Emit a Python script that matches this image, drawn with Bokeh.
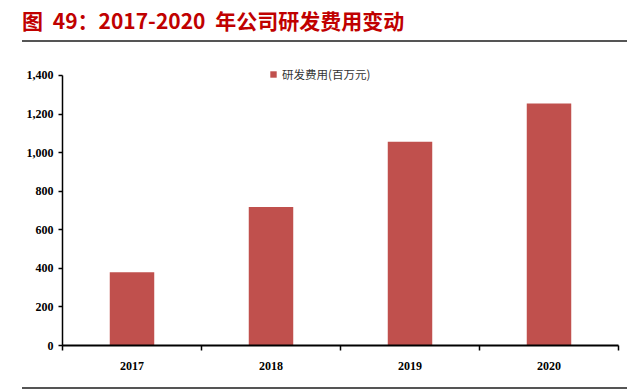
from bokeh.plotting import figure
from bokeh.models import (ColumnDataSource, FixedTicker, Range1d, Legend, LegendItem,
                          NumeralTickFormatter, Div)
from bokeh.layouts import column
from bokeh.embed import file_html
from bokeh.resources import INLINE

categories = ["2017", "2018", "2019", "2020"]
rd_expense = [380, 718, 1057, 1255]
y_ticks = [0, 200, 400, 600, 800, 1000, 1200, 1400]
series_name = "研发费用(百万元)"
title_text = "图 49：2017-2020 年公司研发费用变动"

xs = [i + 0.5 for i in range(len(categories))]
src = ColumnDataSource(dict(x=xs, top=rd_expense, cat=categories))

# ---- title block with rule ----
title_html = f"""
<div style="position:relative;width:640px;height:44px;overflow:hidden;">
  <div style="position:absolute;left:22px;top:6px;font-family:'Noto Sans CJK SC';font-weight:bold;
              font-size:21px;line-height:28px;color:#C00000;white-space:nowrap;word-spacing:5px;">{title_text}</div>
  <div style="position:absolute;left:22px;top:40px;width:605px;height:2px;background:#555555;"></div>
</div>"""
top_div = Div(text=title_html, width=640, height=44, margin=(0, 0, 0, 0))

bottom_html = """
<div style="position:relative;width:640px;height:11px;overflow:hidden;">
  <div style="position:absolute;left:22px;top:6px;width:605px;height:2px;background:#555555;"></div>
</div>"""
bottom_div = Div(text=bottom_html, width=640, height=11, margin=(0, 0, 0, 0))

# ---- chart ----
p = figure(width=640, height=336, output_backend="svg", toolbar_location=None,
           x_range=Range1d(0, len(categories)), y_range=Range1d(0, 1488),
           min_border_left=62, min_border_right=22, min_border_top=14, min_border_bottom=35,
           margin=(0, 0, 0, 0))
p.outline_line_color = None
p.xgrid.visible = False
p.ygrid.visible = False
p.background_fill_color = "white"
p.border_fill_color = "white"

r = p.vbar(x="x", top="top", width=0.32, source=src, fill_color="#C0504D", line_color=None)

ya = p.yaxis[0]
ya.ticker = FixedTicker(ticks=y_ticks)
ya.formatter = NumeralTickFormatter(format="0,0")
ya.bounds = (0, 1400)
ya.axis_line_color = "black"
ya.axis_line_width = 1.5
ya.major_tick_out = 4
ya.major_tick_in = 0
ya.major_tick_line_color = "black"
ya.major_tick_line_width = 1.5
ya.minor_tick_line_color = None
ya.major_label_text_font = "Liberation Serif"
ya.major_label_text_font_style = "bold"
ya.major_label_text_font_size = "12px"
ya.major_label_text_color = "black"
ya.major_label_standoff = 5

xa = p.xaxis[0]
xa.ticker = FixedTicker(ticks=xs, minor_ticks=list(range(len(categories) + 1)))
xa.major_label_overrides = {x: c for x, c in zip(xs, categories)}
xa.major_tick_line_color = None
xa.minor_tick_line_color = "black"
xa.minor_tick_line_width = 1.5
xa.minor_tick_out = 5
xa.minor_tick_in = 0
xa.axis_line_color = "black"
xa.axis_line_width = 2
xa.major_label_text_font = "Liberation Serif"
xa.major_label_text_font_style = "bold"
xa.major_label_text_font_size = "12px"
xa.major_label_text_color = "black"
xa.major_label_standoff = 10

legend = Legend(items=[LegendItem(label=series_name, renderers=[r])],
                location=(207, 263), orientation="horizontal",
                border_line_color=None, background_fill_alpha=0,
                padding=0, margin=0, glyph_width=8, glyph_height=8,
                label_standoff=5, label_height=12,
                label_text_font="Noto Sans CJK SC", label_text_font_size="11.5px",
                label_text_color="#333333")
p.add_layout(legend)

layout = column(top_div, p, bottom_div, spacing=0, margin=(0, 0, 0, 0))
open("out.html", "w").write(file_html(layout, INLINE))
